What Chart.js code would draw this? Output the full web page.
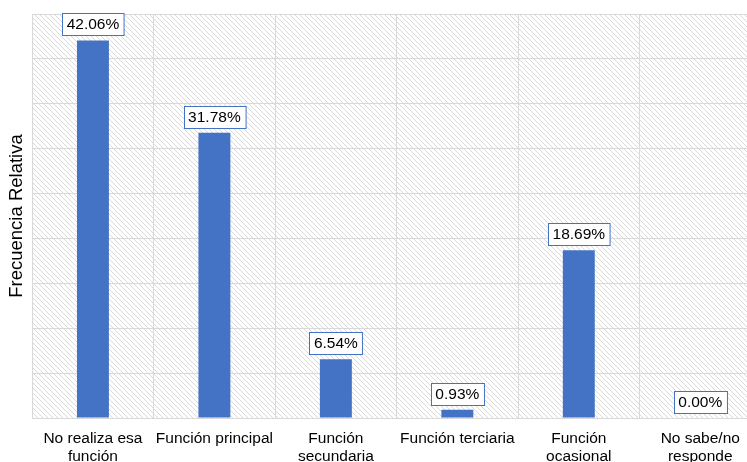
<!DOCTYPE html>
<html>
<head>
<meta charset="utf-8">
<script src="https://cdn.jsdelivr.net/npm/chart.js@4"></script>
<style>
    html, body { margin: 0; padding: 0; background: #fff; overflow: hidden; }
    #wrap { width: 762px; height: 462px; position: relative; }
</style>
</head>
<body>
<div id="wrap"><canvas id="freqChart"></canvas></div>
<script>

const categories = [
    ["No realiza esa", "función"],
    "Función principal",
    ["Función", "secundaria"],
    "Función terciaria",
    ["Función", "ocasional"],
    ["No sabe/no", "responde"]
];

const frecuencia = [42.06, 31.78, 6.54, 0.93, 18.69, 0.00];

const yMax = 45;
const yStep = 5;

const FONT = "'Liberation Sans', Arial, sans-serif";
const BLUE = "#4472c4";

// diagonal hatch for the plot background
function makeHatch() {
    const s = 5;
    const c = document.createElement("canvas");
    c.width = s;
    c.height = s;
    const g = c.getContext("2d");
    g.fillStyle = "#fff";
    g.fillRect(0, 0, s, s);
    g.fillStyle = "#dadada";
    for (let i = 0; i < s; i++)
        g.fillRect(i, i, 1, 1);
    return g.createPattern(c, "repeat");
}

const hatchBg = {
    id: "hatchBg",
    beforeDraw(chart) {
        const a = chart.chartArea;
        const ctx = chart.ctx;
        ctx.save();
        ctx.fillStyle = makeHatch();
        ctx.fillRect(a.left, a.top, a.right - a.left, a.bottom - a.top);
        ctx.restore();
    }
};

// boxed value labels above each bar
const boxLabels = {
    id: "boxLabels",
    afterDatasetsDraw(chart) {
        const ctx = chart.ctx;
        const meta = chart.getDatasetMeta(0);
        ctx.save();
        ctx.font = "15.5px " + FONT;
        ctx.textAlign = "center";
        ctx.textBaseline = "middle";
        meta.data.forEach((bar, i) => {
            const txt = frecuencia[i].toFixed(2) + "%";
            const w = ctx.measureText(txt).width + 9;
            const h = 22;
            const x = Math.round(bar.x - w / 2) + 0.5;
            const y = Math.round(bar.y - 5 - h) + 0.5;
            ctx.fillStyle = "#fff";
            ctx.fillRect(x, y, w, h);
            ctx.strokeStyle = BLUE;
            ctx.lineWidth = 1;
            ctx.strokeRect(x, y, w, h);
            ctx.fillStyle = "#000";
            ctx.fillText(txt, bar.x, y + h / 2 + 0.5);
        });
        ctx.restore();
    }
};

new Chart(document.getElementById("freqChart").getContext("2d"), {
    type: "bar",
    data: {
        labels: categories,
        datasets: [
            {
                label: "Frecuencia Relativa",
                data: frecuencia,
                backgroundColor: BLUE,
                borderWidth: 0,
                categoryPercentage: 1,
                barPercentage: 0.263
            }
        ]
    },
    options: {
        responsive: true,
        maintainAspectRatio: false,
        animation: false,
        layout: {
            padding: { top: 14, right: 1, bottom: -16, left: 2 }
        },
        plugins: {
            legend: { display: false },
            tooltip: { enabled: false }
        },
        scales: {
            x: {
                grid: {
                    color: "#d9d9d9",
                    drawTicks: false,
                    offset: true
                },
                border: { color: "#d9d9d9" },
                ticks: {
                    color: "#000",
                    padding: 12,
                    maxRotation: 0,
                    autoSkip: false,
                    font: { family: FONT, size: 15.5, lineHeight: 1.16 }
                }
            },
            y: {
                min: 0,
                max: yMax,
                grid: {
                    color: "#d9d9d9",
                    drawTicks: false
                },
                border: { color: "#d9d9d9" },
                ticks: {
                    stepSize: yStep,
                    display: false
                },
                title: {
                    display: true,
                    text: "Frecuencia Relativa",
                    color: "#000",
                    padding: { top: 4, bottom: 4 },
                    font: { family: FONT, size: 18.5 }
                }
            }
        }
    },
    plugins: [hatchBg, boxLabels]
});

</script>
</body>
</html>
